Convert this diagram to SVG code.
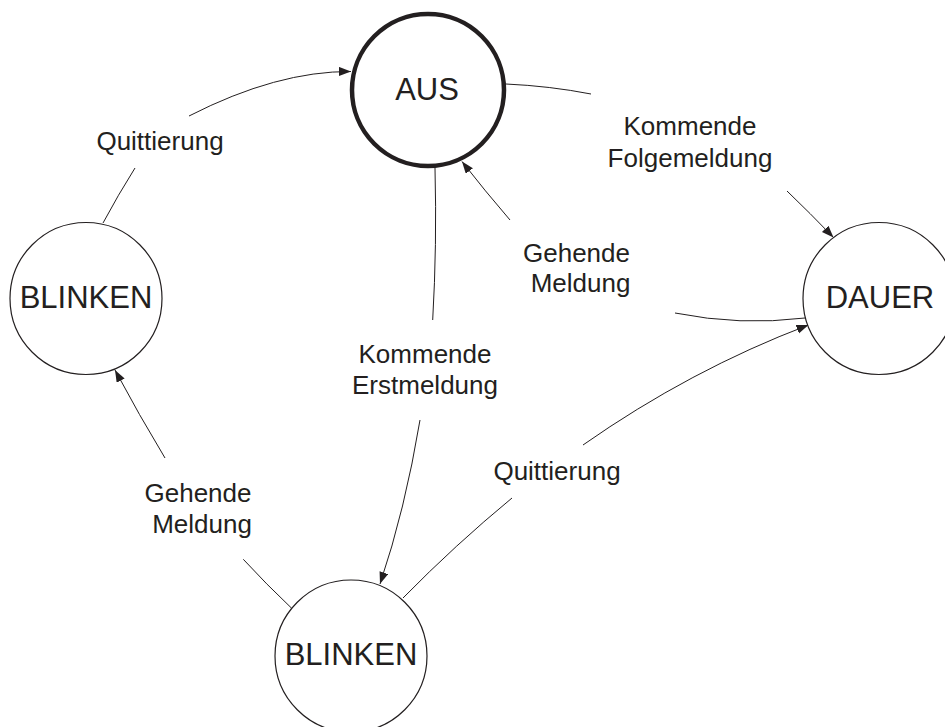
<svg xmlns="http://www.w3.org/2000/svg" width="945" height="727" viewBox="0 0 945 727">
<style>
  .node { fill: #ffffff; stroke: #231f20; stroke-width: 1.2; }
  .start { stroke-width: 4.5; }
  .nlabel { font-family: "Liberation Sans", Arial, sans-serif; font-size: 31px; fill: #231f20; text-anchor: middle; }
  .elabel { font-family: "Liberation Sans", Arial, sans-serif; font-size: 26px; fill: #231f20; text-anchor: middle; }
  .edge { fill: none; stroke: #231f20; stroke-width: 1; }
</style>
<defs>
  <marker id="arrow" markerUnits="userSpaceOnUse" markerWidth="13" markerHeight="10" refX="12" refY="4.5" orient="auto">
    <path d="M0,0 L12,4.5 L0,9 z" fill="#231f20"/>
  </marker>
</defs>
<rect width="945" height="727" fill="#ffffff"/>

<g id="connectors">
  <!-- BLINKEN (left) -> AUS : Quittierung -->
  <path class="edge" d="M103,223 Q118,195 135,168"/>
  <path class="edge" d="M189,116 Q277,71 351,71.5" marker-end="url(#arrow)"/>
  <!-- AUS -> DAUER : Kommende Folgemeldung -->
  <path class="edge" d="M506,84 Q550,86 591,94"/>
  <path class="edge" d="M787,191 Q810,213 833.5,237.5" marker-end="url(#arrow)"/>
  <!-- DAUER -> AUS : Gehende Meldung -->
  <path class="edge" d="M805,318 Q740,326 675,313"/>
  <path class="edge" d="M510,220 Q485,191 462,161.5" marker-end="url(#arrow)"/>
  <!-- AUS -> BLINKEN (bottom) : Kommende Erstmeldung -->
  <path class="edge" d="M435,168 Q437,245 432.7,320"/>
  <path class="edge" d="M420,420 Q405,510 380,584" marker-end="url(#arrow)"/>
  <!-- BLINKEN (bottom) -> DAUER : Quittierung -->
  <path class="edge" d="M403,598 Q455,545 512,498"/>
  <path class="edge" d="M583,445 Q690,370 808.5,325" marker-end="url(#arrow)"/>
  <!-- BLINKEN (bottom) -> BLINKEN (left) : Gehende Meldung -->
  <path class="edge" d="M291.7,608.3 Q266,584 243.3,559.3"/>
  <path class="edge" d="M165,458 Q139,415 115,370" marker-end="url(#arrow)"/>
</g>

<g id="edge-labels">
  <text class="elabel" x="160" y="150">Quittierung</text>
  <text class="elabel" x="690" y="135">Kommende</text>
  <text class="elabel" x="690" y="166.5">Folgemeldung</text>
  <text class="elabel" x="576.5" y="261.5">Gehende</text>
  <text class="elabel" x="580.5" y="292">Meldung</text>
  <text class="elabel" x="425" y="362.5">Kommende</text>
  <text class="elabel" x="425" y="393.5">Erstmeldung</text>
  <text class="elabel" x="557" y="480">Quittierung</text>
  <text class="elabel" x="198" y="501.5">Gehende</text>
  <text class="elabel" x="202" y="533">Meldung</text>
</g>

<g id="node-aus">
  <circle class="node start" cx="428" cy="90" r="76"/>
  <text class="nlabel" x="427" y="100">AUS</text>
</g>
<g id="node-blinken-left">
  <circle class="node" cx="86" cy="298.5" r="76"/>
  <text class="nlabel" x="86" y="308">BLINKEN</text>
</g>
<g id="node-dauer">
  <circle class="node" cx="879" cy="298.5" r="76"/>
  <text class="nlabel" x="880" y="308">DAUER</text>
</g>
<g id="node-blinken-bottom">
  <circle class="node" cx="351" cy="656" r="76"/>
  <text class="nlabel" x="351" y="665">BLINKEN</text>
</g>
</svg>
